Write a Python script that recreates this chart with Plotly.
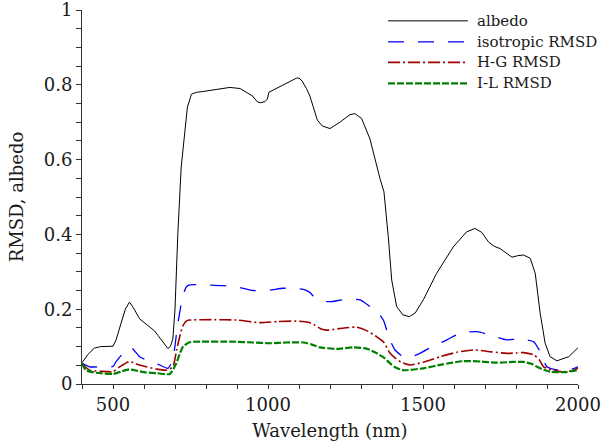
import plotly.graph_objects as go

# ---------------- data ----------------
wl_albedo = [400, 420, 440, 460, 500, 510, 525, 540, 553, 565, 586, 600, 618, 634, 645, 656, 670, 677, 685, 693,
             700, 709, 720, 731, 740, 753, 770, 790, 830, 877, 910, 930, 950, 965, 975, 990, 998, 1003, 1015, 1038,
             1060, 1080, 1092, 1100, 1110, 1124, 1135, 1146, 1159, 1175, 1200, 1232, 1264, 1280, 1302, 1329, 1345,
             1361, 1374, 1388, 1399, 1415, 1435, 1456, 1475, 1501, 1544, 1598, 1641, 1668, 1690, 1711, 1730, 1749,
             1787, 1805, 1824, 1846, 1862, 1878, 1894, 1910, 1932, 1970, 2000]
albedo = [0.057, 0.080, 0.096, 0.100, 0.101, 0.118, 0.160, 0.200, 0.219, 0.205, 0.174, 0.165, 0.153, 0.142, 0.130,
          0.118, 0.100, 0.095, 0.100, 0.120,
          0.200, 0.400, 0.580, 0.680, 0.740, 0.775, 0.780, 0.782, 0.787, 0.793, 0.790, 0.780, 0.770, 0.755, 0.752,
          0.755, 0.762, 0.780, 0.785, 0.795,
          0.805, 0.812, 0.818, 0.818, 0.810, 0.790, 0.770, 0.741, 0.706, 0.690, 0.683, 0.700, 0.720, 0.723, 0.710,
          0.655, 0.600,
          0.550, 0.514, 0.394, 0.278, 0.207, 0.185, 0.180, 0.190, 0.225, 0.296, 0.367, 0.407, 0.416, 0.405, 0.380,
          0.368, 0.362,
          0.339, 0.343, 0.345, 0.336, 0.296, 0.189, 0.109, 0.073, 0.062, 0.073, 0.097]

wl_iso = [400, 424, 460, 500, 510, 530, 545, 560, 586, 620, 650, 677, 690, 699, 707, 715, 725, 737, 747, 800, 854,
          910, 952, 1006, 1049, 1114, 1135, 1146, 1175, 1200, 1243, 1297, 1329, 1350, 1372, 1383, 1395, 1410, 1436,
          1460, 1490, 1530, 1577, 1620, 1674, 1717, 1771, 1803, 1835, 1857, 1878, 1900, 1943, 1975, 2000]
iso = [0.056, 0.046, 0.046, 0.047, 0.060, 0.080, 0.092, 0.096, 0.073, 0.060, 0.051, 0.042, 0.060, 0.096, 0.150,
       0.190, 0.235, 0.260, 0.265, 0.265, 0.263,
       0.258, 0.250, 0.251, 0.256, 0.253, 0.245, 0.235, 0.222, 0.220, 0.225, 0.225, 0.207, 0.195, 0.171, 0.144,
       0.115, 0.091, 0.073,
       0.072, 0.082, 0.100, 0.118, 0.136, 0.140, 0.131, 0.118, 0.120, 0.118, 0.113, 0.086, 0.046, 0.036, 0.038, 0.046]

wl_hg = [400, 424, 460, 500, 520, 553, 580, 607, 640, 672, 693, 705, 715, 725, 737, 747, 820, 898, 973, 1030, 1092,
         1130, 1146, 1170, 1189, 1230, 1286, 1320, 1351, 1372, 1394, 1405, 1430, 1458, 1500, 1555, 1610, 1663, 1720,
         1771, 1800, 1824, 1857, 1875, 1889, 1943, 1975, 2000]
hg = [0.055, 0.037, 0.034, 0.033, 0.045, 0.060, 0.052, 0.046, 0.040, 0.037, 0.046, 0.090, 0.126, 0.155, 0.169,
      0.171, 0.172, 0.171, 0.164, 0.167, 0.168,
      0.165, 0.160, 0.148, 0.144, 0.148, 0.152, 0.142, 0.126, 0.113, 0.082, 0.073, 0.058, 0.051, 0.058, 0.073,
      0.085, 0.091, 0.086,
      0.082, 0.083, 0.084, 0.078, 0.065, 0.046, 0.033, 0.035, 0.042]

wl_il = [400, 413, 446, 500, 525, 553, 580, 607, 640, 683, 704, 715, 726, 745, 758, 898, 950, 1006, 1060, 1114, 1140,
         1167, 1221, 1275, 1320, 1351, 1375, 1394, 1410, 1436, 1501, 1560, 1630, 1690, 1738, 1790, 1824, 1850, 1868,
         1890, 1910, 1960, 2000]
il = [0.055, 0.037, 0.030, 0.027, 0.033, 0.039, 0.035, 0.031, 0.029, 0.027, 0.055, 0.080, 0.100, 0.111, 0.113,
      0.113, 0.111, 0.109, 0.111, 0.111, 0.106,
      0.098, 0.094, 0.098, 0.094, 0.082, 0.070, 0.055, 0.045, 0.037, 0.042, 0.052, 0.061, 0.060, 0.057, 0.059,
      0.059, 0.054, 0.046,
      0.038, 0.033, 0.032, 0.037]

x_ticks = [500, 1000, 1500, 2000]
y_ticks = [0, 0.2, 0.4, 0.6, 0.8, 1]
y_tick_text = ["0", "0.2", "0.4", "0.6", "0.8", "1"]

series_names = ["albedo", "isotropic RMSD", "H-G RMSD", "I-L RMSD"]
series_colors = ["#000000", "#0000ff", "#a00000", "#008000"]
series_dash = ["solid", "16px,14px", "12px,3px,2px,3px", "7px,2px"]
series_width = [1, 1.3, 1.6, 2.2]

FONT = "DejaVu Serif"

fig = go.Figure()
data = [(wl_albedo, albedo), (wl_iso, iso), (wl_hg, hg), (wl_il, il)]
for i, (xs, ys) in enumerate(data):
    fig.add_trace(go.Scatter(
        x=xs, y=ys, mode="lines", name=series_names[i],
        line=dict(color=series_colors[i], width=series_width[i], dash=series_dash[i],
                  shape="linear" if i == 0 else "spline", smoothing=0.6),
        showlegend=False, cliponaxis=False, hoverinfo="skip",
    ))

# manual legend (decoration)
leg_rows = [0.971, 0.915, 0.860, 0.804]
for i, name in enumerate(series_names):
    fig.add_shape(type="line", xref="paper", yref="paper",
                  x0=0.617, x1=0.778, y0=leg_rows[i], y1=leg_rows[i],
                  line=dict(color=series_colors[i], width=series_width[i], dash=series_dash[i]))
    fig.add_annotation(xref="paper", yref="paper", x=0.792, y=leg_rows[i], text=name,
                       showarrow=False, xanchor="left", yanchor="middle",
                       font=dict(family=FONT, size=15, color="#1a1a1a"))

fig.update_layout(
    width=603, height=445,
    margin=dict(l=82, r=25, t=10, b=61, autoexpand=False),
    paper_bgcolor="white", plot_bgcolor="white",
    font=dict(family=FONT, size=18, color="#1a1a1a"),
)
fig.update_xaxes(
    range=[400, 2000], showgrid=False, zeroline=False, automargin=False,
    showline=True, linecolor="#333333", linewidth=1,
    ticks="outside", ticklen=4, tickcolor="#333333",
    tickvals=x_ticks, ticklabeloverflow="allow",
    minor=dict(dtick=100, tick0=400, ticks="outside", ticklen=4, tickcolor="#333333"),
    title=dict(text="Wavelength (nm)", font=dict(family=FONT, size=18), standoff=10),
    tickfont=dict(family=FONT, size=18),
)
fig.update_yaxes(
    range=[0, 1], showgrid=False, zeroline=False, automargin=False,
    showline=True, linecolor="#333333", linewidth=1,
    ticks="outside", ticklen=5, tickcolor="#333333",
    tickvals=y_ticks, ticktext=y_tick_text, ticklabeloverflow="allow",
    minor=dict(dtick=0.05, tick0=0, ticks="outside", ticklen=5, tickcolor="#333333"),
    title=dict(text="RMSD, albedo", font=dict(family=FONT, size=18), standoff=15),
    tickfont=dict(family=FONT, size=18),
)

fig.write_html("out.html", config={"displayModeBar": False, "staticPlot": True},
               post_script="document.body.style.margin='0';document.body.style.overflow='hidden';")
